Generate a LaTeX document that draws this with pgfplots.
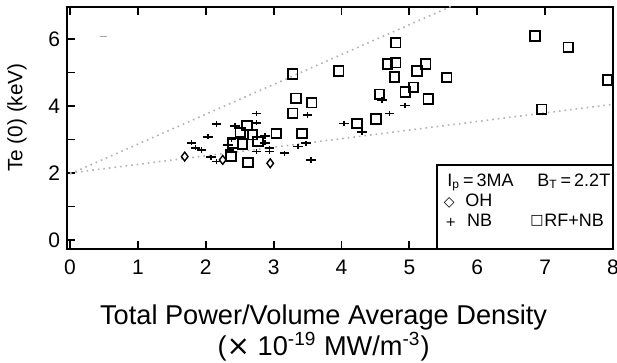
\documentclass[border=0pt]{standalone}
\usepackage{pgfplots}
\pgfplotsset{compat=1.18}
\usepackage{fontspec}
\setmainfont{Liberation Sans}
\newfontfamily\symfont{DejaVu Sans}
\begin{document}
\begin{tikzpicture}
\useasboundingbox (-33.5pt,-57pt) rectangle (275pt,124.5pt);
\begin{axis}[
  scale only axis, width=273pt, height=121pt,
  at={(0,0)}, anchor=south west,
  xmin=-0.044, xmax=8, ymin=-0.269, ymax=6.955,
  xtick={0,...,8}, ytick={0,2,4,6}, minor ytick={1,3,5},
  xtick pos=both, ytick pos=left, tick align=inside,
  major tick length=4pt, minor tick length=4pt,
  axis line style={line width=1pt}, tick style={line width=0.9pt, black},
  /pgf/number format/assume math mode=true,
  tick label style={font=\fontsize{10.5}{12}\selectfont},
  xticklabel style={yshift=-2pt},
  ylabel={Te (0) (keV)},
  ylabel style={font=\fontsize{10.4}{12}\selectfont, at={(axis description cs:-0.0916,0.543)}, anchor=center, rotate=0},
  xlabel={Total Power/Volume Average Density\\({\symfont\fontsize{14}{14}\selectfont ×} 10\textsuperscript{-19} MW/m\textsuperscript{-3})},
  xlabel style={font=\fontsize{13.6}{14}\selectfont, align=center, at={(axis description cs:0.47,-0.2)}, anchor=north},
  clip=true,
]
\addplot[gray!60, dotted, line width=0.8pt] coordinates {(0,1.97) (5.7,7.05)};
\addplot[gray!60, dotted, line width=0.8pt] coordinates {(0,2.0) (8,4.05)};
\addplot[only marks, mark=square, mark size=2.4pt, line width=0.9pt, black] coordinates {
(4.80,5.89) (3.96,5.04) (4.68,5.25) (4.80,5.29) (5.24,5.25) (5.11,5.04)
(4.78,4.87) (5.55,4.85) (5.06,4.56) (4.94,4.42) (4.56,4.35) (5.28,4.21)
(3.56,4.10) (4.51,3.61) (4.23,3.48) (3.42,3.18) (6.85,6.09) (7.34,5.75)
(7.92,4.78) (6.95,3.90) (3.28,4.96) (3.33,4.23) (3.28,3.78) (3.04,3.18)
(2.61,3.42) (2.51,3.21) (2.69,3.14) (2.77,2.94) (2.54,2.87) (2.40,2.89)
(2.37,2.49) (2.62,2.31)
};
\addplot[only marks, mark=diamond, mark size=2.2pt, line width=0.7pt, black] coordinates {
(1.69,2.49) (2.25,2.39) (2.95,2.29)
};
\addplot[only marks, mark=+, mark size=2.4pt, line width=0.8pt, black, mark options={yscale=0.55}] coordinates {
(2.75,3.78) (3.50,3.73) (2.16,3.46) (4.04,3.48) (2.03,3.08) (2.43,3.40)
(2.75,3.50) (2.87,3.10) (3.48,2.89) (3.36,2.79) (1.94,2.69) (2.94,2.64)
(3.16,2.59) (3.55,2.39) (2.75,2.64) (2.08,2.47) (2.16,2.34) (1.79,2.90)
(1.85,2.75) (2.38,3.00) (2.33,2.84) (2.94,2.74) (2.87,2.90) (2.35,2.69)
(4.60,4.18) (4.71,3.78) (4.94,4.02) (4.30,3.22)
};
\addplot[only marks, mark=-, mark size=1.8pt, line width=0.5pt, gray!70] coordinates {(0.49,6.06)};
\end{axis}
% legend box
\draw[line width=0.9pt, fill=white] (185pt,0pt) rectangle (273pt,42pt);
\begin{scope}[every node/.style={inner sep=0pt, font=\fontsize{9}{11}\selectfont}]
\node[anchor=base west] at (190pt,31.15pt) {I\textsubscript{p}\,=\,3MA};
\node[anchor=base west] at (235pt,31.15pt) {B\textsubscript{T}\,=\,2.2T};
\node[font=\symfont\fontsize{7}{8}\selectfont] at (191.15pt,22.85pt) {◇};
\node[anchor=base west] at (199pt,21.15pt) {OH};
\node[font=\symfont\fontsize{6.5}{8}\selectfont] at (191.85pt,13.2pt) {+};
\node[anchor=base west] at (199.85pt,11.15pt) {NB};
\node[font=\symfont\fontsize{7}{8}\selectfont] at (235pt,14pt) {□};
\node[anchor=base west] at (238.5pt,11.15pt) {RF+NB};
\end{scope}
\end{tikzpicture}
\end{document}
